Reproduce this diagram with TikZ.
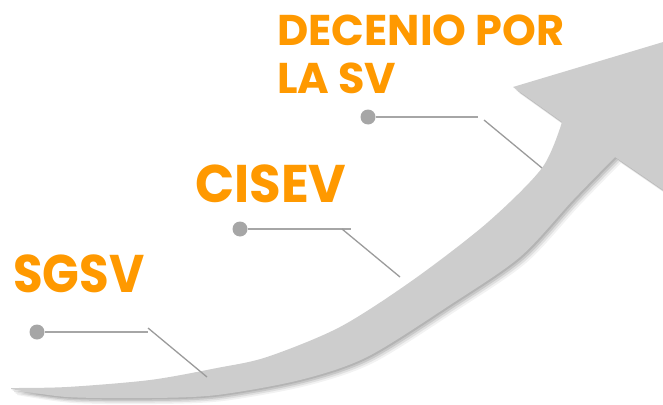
\documentclass[tikz,border=0pt]{standalone}
\usepackage{fontspec}
\newfontfamily\pop{Poppins}
\definecolor{orng}{RGB}{255,153,0}
\definecolor{arrowgray}{RGB}{205,205,205}
\definecolor{linegray}{RGB}{166,166,166}
\definecolor{diaggray}{RGB}{155,155,155}
\begin{document}
\begin{tikzpicture}[x=1pt,y=-1pt,
  lbl/.style={font=\pop\bfseries\fontsize{53}{60}\selectfont, text=orng, inner sep=0pt, anchor=base west},
  dot/.style={circle, fill=linegray, minimum size=15pt, inner sep=0pt},
  hline/.style={draw=linegray, line width=2.6pt},
  dline/.style={draw=diaggray, line width=1.3pt},
  arrowshape/.style={insert path={
    plot[smooth] coordinates {(11,388) (67,387) (150,380) (217,368) (267,357) (340,327) (413,280) (487,223) (542,168) (562,122)}
    -- (513,87) -- (720,25) -- (720,229) -- (615,157)
    -- plot[smooth] coordinates {(615,157) (573,200) (520,257) (450,305) (367,357) (300,380) (217,395) (150,398) (67,397) (11,389)}
    -- cycle}}
]
\useasboundingbox (0,0) rectangle (663,404);
\begin{scope}
\clip (0,0) rectangle (663,404);
\foreach \s/\o in {1.5/0.10,3/0.10,4.5/0.08,6/0.05}
  \fill[black, opacity=\o, shift={(\s,\s)}, arrowshape];
\fill[arrowgray, arrowshape];
\end{scope}

% connectors
\node[dot] (d1) at (37,332) {};
\coordinate (h1) at (148,332);
\coordinate (s1) at (148,328);
\coordinate (e1) at (207,377);
\draw[hline] (d1) -- (h1);
\draw[dline] (s1) -- (e1);

\node[dot] (d2) at (240,229) {};
\coordinate (h2) at (351,229);
\coordinate (s2) at (342,229);
\coordinate (e2) at (400,277);
\draw[hline] (d2) -- (h2);
\draw[dline] (s2) -- (e2);

\node[dot] (d3) at (368,117) {};
\coordinate (h3) at (478,117);
\coordinate (s3) at (484,120);
\coordinate (e3) at (542,168);
\draw[hline] (d3) -- (h3);
\draw[dline] (s3) -- (e3);

% labels
\node[lbl] (sgsv) at (13,292) {\scalebox{0.91}[1]{SGSV}};
\node[lbl] (cisev) at (195,202) {\scalebox{0.97}[1]{CISEV}};
\node[lbl, font=\pop\bfseries\fontsize{43}{48}\selectfont, align=left] (dec) at (277,93) {DECENIO POR\\LA SV};
\end{tikzpicture}
\end{document}
